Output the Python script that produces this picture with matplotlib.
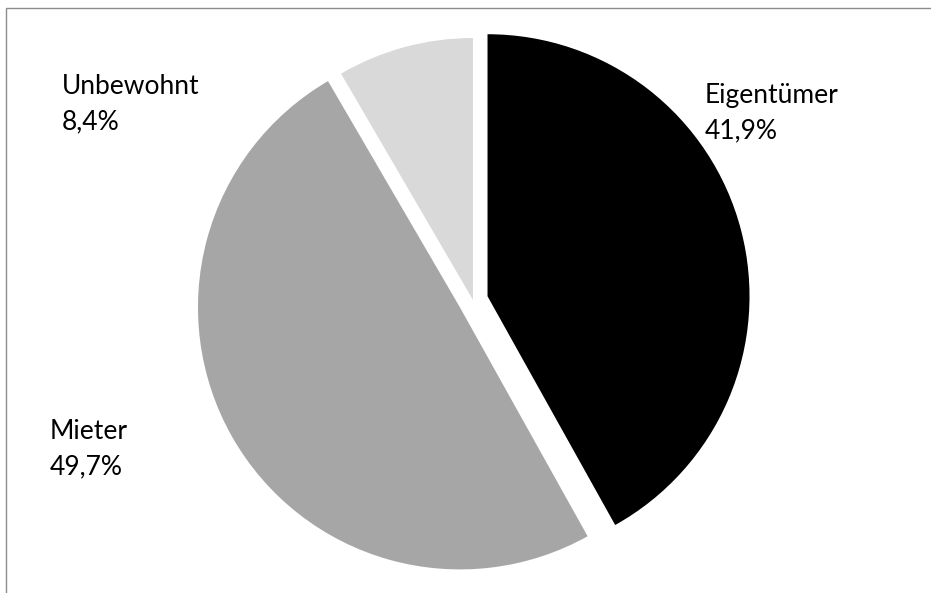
import matplotlib
matplotlib.use("Agg")
import matplotlib.pyplot as plt
from matplotlib.patches import Rectangle

# Daten
categories = ["Eigentümer", "Mieter", "Unbewohnt"]
shares = [41.9, 49.7, 8.4]
colors = ["#000000", "#a6a6a6", "#d9d9d9"]

W, H = 931, 593
plt.rcParams["font.family"] = ["Lato", "DejaVu Sans"]

fig = plt.figure(figsize=(W / 100, H / 100), dpi=100)
ax = fig.add_axes([0, 0, 1, 1])

# Rahmen (rechts und unten ausserhalb des Bildes)
ax.add_patch(Rectangle((5.5, -20), W + 40, H - 8 + 20, fill=False,
                       edgecolor="#8c8c8c", linewidth=1.0))

# explode wirkt bei pie in Dateneinheiten (hier Pixel)
ax.pie(shares, colors=colors, explode=[15, 15, 0], startangle=90,
       counterclock=False, center=(473, H - 300), radius=262,
       wedgeprops=dict(linewidth=0), frame=True)
ax.set_xlim(0, W)
ax.set_ylim(0, H)
ax.axis("off")

# Beschriftungen: (x, Grundlinie erste Zeile) in Pixeln von oben
label_pos = {"Eigentümer": (705, 103), "Mieter": (50, 439), "Unbewohnt": (62, 94)}
for name, val in zip(categories, shares):
    x, y = label_pos[name]
    pct = f"{val:.1f}".replace(".", ",") + "%"
    ax.text(x, H - y, name, fontsize=19, va="baseline", ha="left", color="#000000")
    ax.text(x, H - y - 35, pct, fontsize=19, va="baseline", ha="left", color="#000000")

fig.savefig("out.png", dpi=100)
